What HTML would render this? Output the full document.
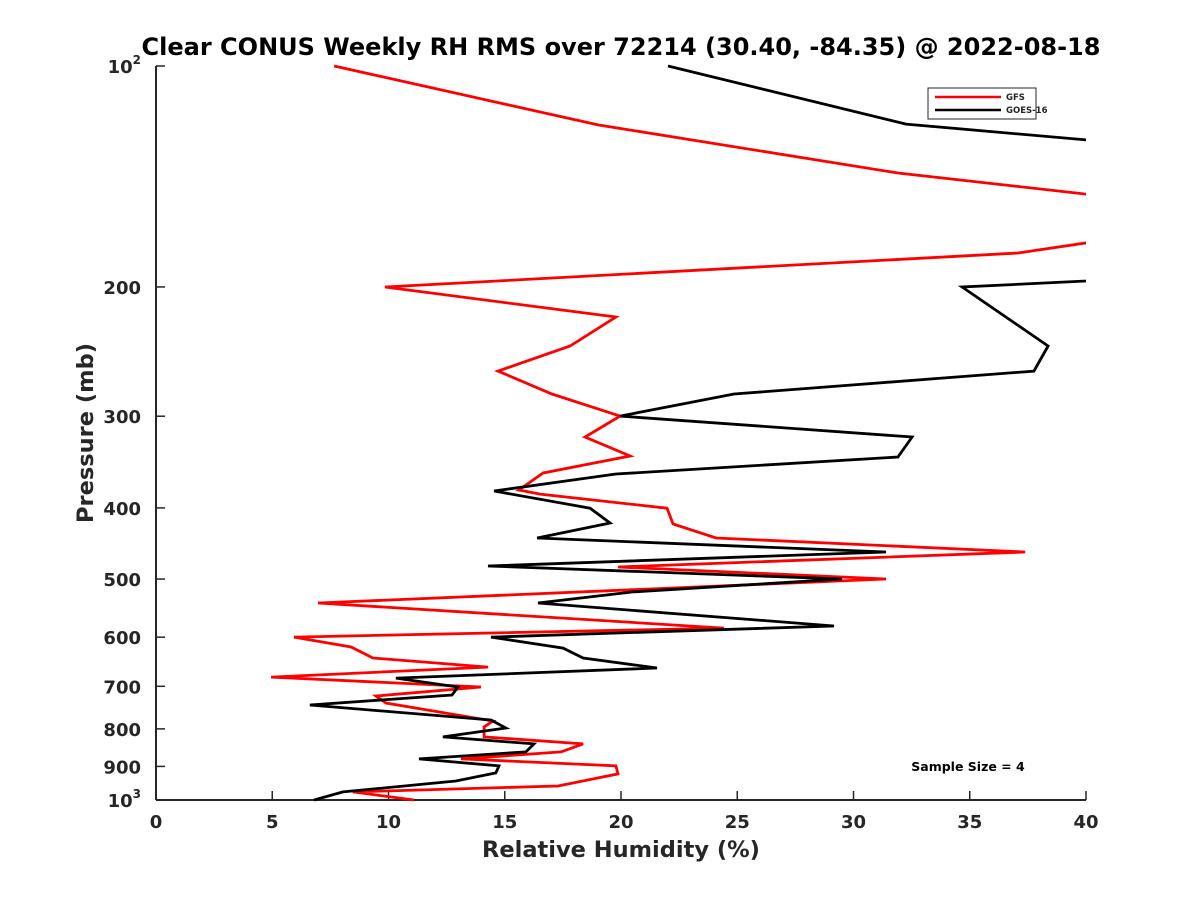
<!DOCTYPE html>
<html><head><meta charset="utf-8"><style>
body{margin:0;background:#fff;}
svg text{font-family:"DejaVu Sans","Liberation Sans",sans-serif;font-weight:bold;fill:#262626;}
</style></head><body>
<svg id="c" width="1200" height="900">
<rect width="1200" height="900" fill="#fff"/>
<text x="621" y="55" text-anchor="middle" font-size="24" style="fill:#000">Clear CONUS Weekly RH RMS over 72214 (30.40, -84.35) @ 2022-08-18</text>
<defs><clipPath id="clip"><rect x="156" y="60" width="930" height="745"/></clipPath></defs>
<g id="axes"></g>
<g id="series" clip-path="url(#clip)"></g>
<text x="621" y="857" text-anchor="middle" font-size="22.5">Relative Humidity (%)</text>
<text transform="translate(93,433) rotate(-90)" text-anchor="middle" font-size="22.5">Pressure (mb)</text>
<g>
<rect x="928" y="88" width="108" height="31" fill="#fff" stroke="#262626" stroke-width="1"/>
<line x1="935" y1="97" x2="1001" y2="97" stroke="#f00" stroke-width="2.5"/>
<text x="1006" y="100" font-size="8.5">GFS</text>
<line x1="935" y1="110" x2="1001" y2="110" stroke="#000" stroke-width="2.5"/>
<text x="1006" y="113" font-size="8.5">GOES-16</text>
</g>
<text x="968" y="771" text-anchor="middle" font-size="12.5" style="fill:#000">Sample Size = 4</text>
</svg>
<script>
const xTicks=[0,5,10,15,20,25,30,35,40];
const yTicks=[100,200,300,400,500,600,700,800,900,1000];
const gfsRH=[7.66,19.01,31.91,48,40,37.08,9.85,19.78,17.81,14.71,17.03,19.96,18.45,20.39,16.65,15.61,16.52,21.98,22.24,24.09,37.38,19.87,31.4,6.97,24.43,5.94,8.39,9.33,14.28,4.95,13.98,9.46,9.89,14.49,14.11,14.11,18.37,17.42,13.12,19.78,19.87,17.29,8.47,11.1];
const gfsP=[100,120.3,139.9,159.6,174.2,179.8,200,219.8,240.7,260.4,279.8,299.9,320.2,339.9,358.5,378.2,383,400.3,420.7,439.6,459.3,481.5,500,539,583.1,599.8,618.9,640.5,659,680,701.5,721.6,737.6,780.4,795.1,820.5,838.7,860,879,898.6,921.4,956.9,975,1000];
const goesRH=[22.02,32.26,40,48,40,34.67,38.37,37.76,24.86,19.96,32.52,31.91,19.78,14.54,18.67,19.53,16.39,31.4,14.28,29.51,20.47,16.43,29.16,14.41,17.51,18.37,21.55,10.32,12.99,12.73,6.62,14.41,15.05,12.34,16.26,15.91,11.31,14.75,14.62,12.9,8.04,6.8];
const goesP=[100,120,126.1,157,196.3,200,240.7,260.4,279.8,299.9,320.2,341,359.6,379.3,400.3,419.4,439.6,459.3,480,500,520.7,539,579.4,599.8,621,640.5,661,682.2,701.5,719.3,742.3,778,797.7,820.5,838.7,860,879,898.6,918.6,942.1,975,1000];
const X0=156,X1=1086,Y0=66,Y1=800;
const sx=v=>X0+(v-0)/40*(X1-X0);
const sy=p=>Y0+Math.log10(p/100)*(Y1-Y0);
const NS='http://www.w3.org/2000/svg';
function mk(t,a,parent){const e=document.createElementNS(NS,t);for(const k in a)e.setAttribute(k,a[k]);parent.appendChild(e);return e;}
const ax=document.getElementById('axes');
let l=mk('line',{x1:X0,y1:Y1,x2:X1,y2:Y1,stroke:'#262626','stroke-width':2},ax);


l=mk('line',{x1:X0,y1:Y0,x2:X0,y2:Y1,stroke:'#262626','stroke-width':2},ax);


xTicks.forEach(v=>{
 const x=sx(v);
 const t=mk('line',{x1:x,y1:Y1,x2:x,y2:Y1-9,stroke:'#262626','stroke-width':1.5},ax);
 
 
 const tx=mk('text',{x:x,y:Y1+28,'text-anchor':'middle','font-size':18},ax);
 tx.textContent=v;
 
 
});
yTicks.forEach(p=>{
 const y=sy(p);
 const t=mk('line',{x1:X0,y1:y,x2:X0+9,y2:y,stroke:'#262626','stroke-width':1.5},ax);
 
 
 const tx=mk('text',{x:X0-15,y:y+7,'text-anchor':'end','font-size':18},ax);
 if(p===100||p===1000){
  tx.textContent='10';
  const s=mk('tspan',{dy:-9,'font-size':12},tx);s.textContent=p===100?'2':'3';
 } else tx.textContent=p;
 
 
});
const sg=document.getElementById('series');
function draw(rh,p,col,name){
 const pts=rh.map((v,i)=>sx(v).toFixed(1)+','+sy(p[i]).toFixed(1)).join(' ');
 const e=mk('polyline',{points:pts,fill:'none',stroke:col,'stroke-width':2.8,'stroke-linejoin':'miter'},sg);
 
 
}
draw(gfsRH,gfsP,'#f00','gfs-line');
draw(goesRH,goesP,'#000','goes16-line');
</script>
</body></html>
